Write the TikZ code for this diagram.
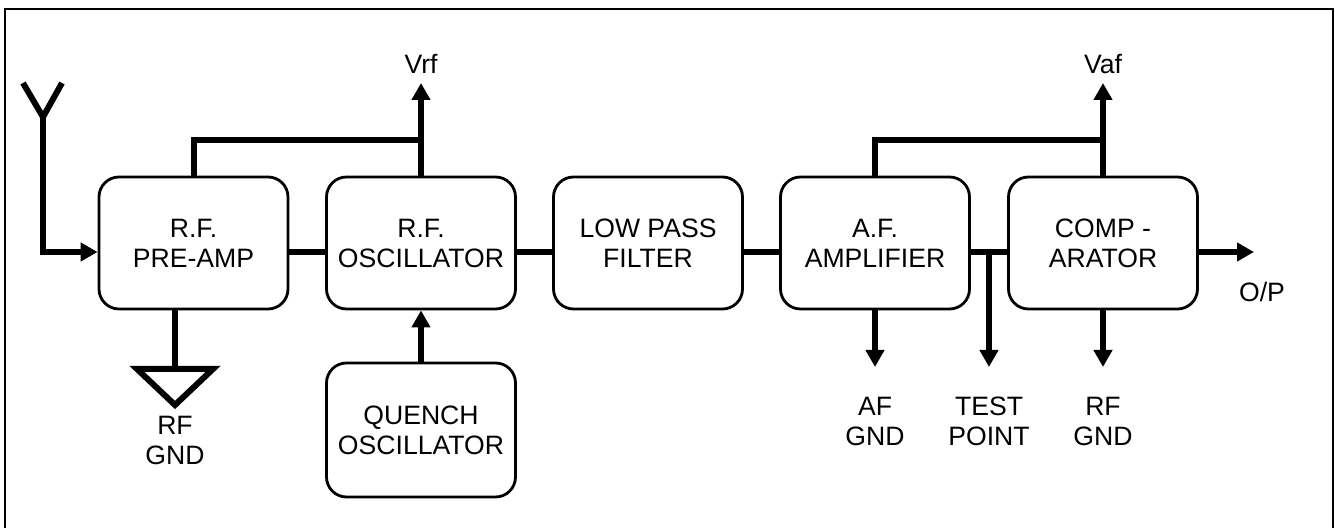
\documentclass[tikz,border=0pt]{standalone}
\usepackage{fontspec}
\setmainfont{Liberation Sans}
\usetikzlibrary{arrows.meta,calc}
\begin{document}
\begin{tikzpicture}[x=0.5pt,y=-0.5pt,
  blk/.style={draw,line width=1.4pt,rounded corners=10pt,minimum width=94.5pt,minimum height=66pt,inner sep=0pt,align=center,font=\fontsize{13.3}{15}\selectfont},
  lbl/.style={align=center,inner sep=0pt,font=\fontsize{13.3}{15}\selectfont},
  wire/.style={line width=3pt},
  arr/.style={wire,-{Triangle[width=9pt,length=8.5pt]}}]
\useasboundingbox (0,0) rectangle (1335,528);
\draw[line width=1pt] (5,530) -- (5,9) -- (1333,9) -- (1333,530);

% blocks
\node[blk] (pre) at (193.5,243) {R.F.\\PRE-AMP};
\node[blk] (osc) at (421,243) {R.F.\\OSCILLATOR};
\node[blk] (lpf) at (648,243) {LOW PASS\\FILTER};
\node[blk] (af)  at (875,243) {A.F.\\AMPLIFIER};
\node[blk] (cmp) at (1103,243) {COMP -\\ARATOR};
\node[blk,minimum height=67pt] (qo) at (421,430) {QUENCH\\OSCILLATOR};

% labels
\node[lbl] (vrf)  at (421,64) {Vrf};
\node[lbl] (vaf)  at (1103,64) {Vaf};
\node[lbl] (rfg1) at (175,440) {RF\\GND};
\node[lbl] (afg)  at (875,421) {AF\\GND};
\node[lbl] (tp)   at (989,421) {TEST\\POINT};
\node[lbl] (rfg2) at (1103,421) {RF\\GND};
\node[lbl] (op)   at (1262,292) {O/P};

% coordinates
\coordinate (antl) at (23,83);
\coordinate (antr) at (62,83);
\coordinate (antj) at (43,117);
\coordinate (vrfj) at (421,140);
\coordinate (vrft) at (421,83);
\coordinate (vafj) at (1103,140);
\coordinate (vaft) at (1103,83);
\coordinate (gtop) at (175,369);
\coordinate (gl) at (137,369);
\coordinate (gr) at (213,369);
\coordinate (gb) at (175,405);
\coordinate (afgt) at (875,367);
\coordinate (tpj) at (989,252);
\coordinate (tpt) at (989,367);
\coordinate (rfgt) at (1103,367);
\coordinate (opt) at (1254,252);

% antenna
\draw[wire,line join=bevel] (antl) -- (antj) -- (antr);
\draw[arr] (antj) |- ($(pre.west)+(0,9)$);

% chain
\draw[wire] ($(pre.east)+(0,9)$) -- ($(osc.west)+(0,9)$);
\draw[wire] ($(osc.east)+(0,9)$) -- ($(lpf.west)+(0,9)$);
\draw[wire] ($(lpf.east)+(0,9)$) -- ($(af.west)+(0,9)$);
\draw[wire] ($(af.east)+(0,9)$) -- ($(cmp.west)+(0,9)$);
\draw[arr] ($(cmp.east)+(0,9)$) -- (opt);

% Vrf
\draw[wire] (pre.north) |- (vrfj);
\draw[arr] (osc.north) -- (vrft);
% Vaf
\draw[wire] (af.north) |- (vafj);
\draw[arr] (cmp.north) -- (vaft);

% RF ground
\draw[wire] (gtop |- pre.south) -- (gtop);
\draw[wire] (gl) -- (gr) -- (gb) -- cycle;

% quench
\draw[arr] (qo.north) -- (osc.south);

% outputs below
\draw[arr] (af.south) -- (afgt);
\draw[arr] (tpj) -- (tpt);
\draw[arr] (cmp.south) -- (rfgt);
\end{tikzpicture}
\end{document}
